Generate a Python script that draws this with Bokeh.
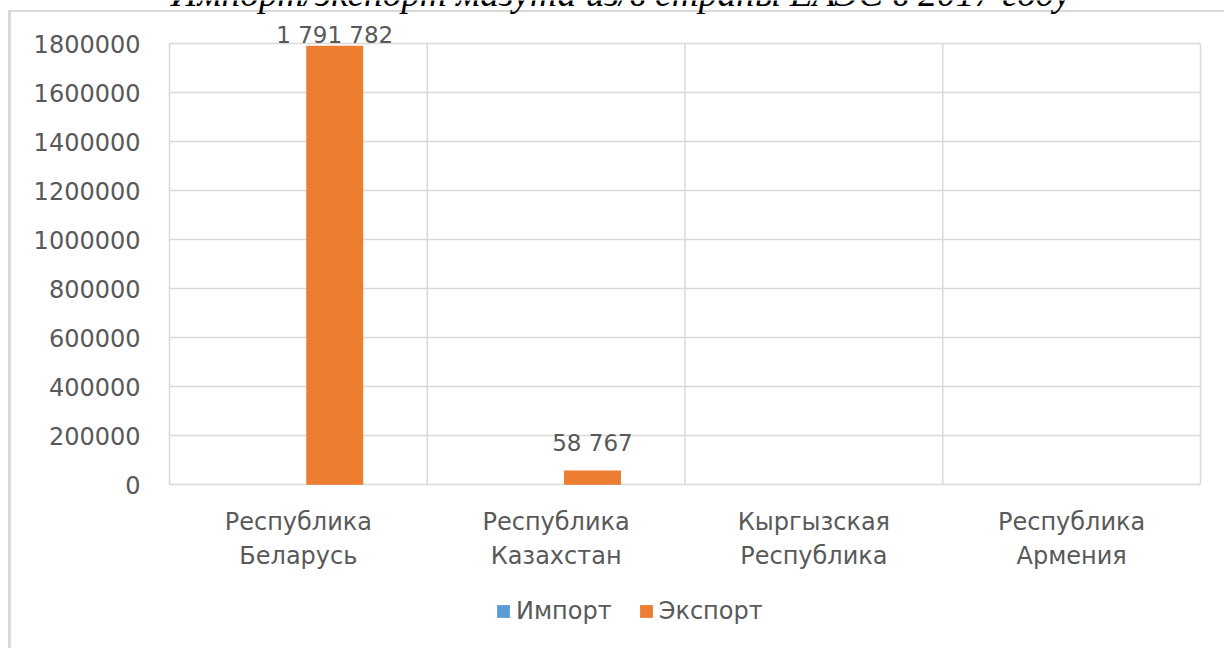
from bokeh.plotting import figure
from bokeh.models import (Range1d, FixedTicker, NumeralTickFormatter, ColumnDataSource,
                          LabelSet, Label, Legend, LegendItem, LinearAxis)
from bokeh.core.properties import value
from bokeh.embed import file_html
from bokeh.resources import INLINE

# ---- data ----
title_text = "Импорт/экспорт мазута из/в страны ЕАЭС в 2017 году"
categories = ["Республика\nБеларусь", "Республика\nКазахстан",
              "Кыргызская\nРеспублика", "Республика\nАрмения"]
import_values = [0, 0, 0, 0]
export_values = [1791782, 58767, 0, 0]
series_names = ["Импорт", "Экспорт"]
y_ticks = [0, 200000, 400000, 600000, 800000, 1000000, 1200000, 1400000, 1600000, 1800000]

# ---- styles / layout ----
C_IMPORT = "#5B9BD5"
C_EXPORT = "#ED7D31"
TXT = "#595959"
GRID = "#d9d9d9"
FONT = "DejaVu Sans"
BAR_W = 0.221
OFF_IMPORT = -0.080
OFF_EXPORT = 0.141

W, H = 1224, 648
FRAME_LEFT, FRAME_RIGHT = 169, 1200
TOP_PX, ZERO_PX = 43.3, 484.3      # pixel rows of the top tick and of zero
YMAX = y_ticks[-1]
per_px = YMAX / (ZERO_PX - TOP_PX)
Y_START = -(H - ZERO_PX) * per_px
Y_END = YMAX + TOP_PX * per_px
n = len(categories)
centers = [i + 0.5 for i in range(n)]
edges = list(range(1, n))

p = figure(width=W, height=H, output_backend="svg", toolbar_location=None,
           x_range=Range1d(0, n), y_range=Range1d(Y_START, Y_END),
           x_axis_location=None,
           min_border_left=FRAME_LEFT, min_border_right=W - FRAME_RIGHT,
           min_border_top=0, min_border_bottom=0)
p.background_fill_alpha = 0
p.border_fill_alpha = 0
p.outline_line_color = None
# outer chart-area border (thin grey lines, left and top)
p.styles = {
    "background": (f"linear-gradient({GRID},{GRID}) 8px 10px / {W}px 2px no-repeat, "
                   f"linear-gradient({GRID},{GRID}) 8px 10px / 3px {H}px no-repeat, white"),
}

# grids
p.ygrid.ticker = FixedTicker(ticks=y_ticks)
p.ygrid.grid_line_color = GRID
p.ygrid.grid_line_width = 1.5
p.xgrid.visible = False
p.segment(x0=edges, y0=[0] * len(edges), x1=edges, y1=[YMAX] * len(edges),
          line_color=GRID, line_width=1.5)

# y axis
p.yaxis.ticker = FixedTicker(ticks=y_ticks)
p.yaxis.formatter = NumeralTickFormatter(format="0")
p.yaxis.bounds = (0, YMAX)
p.yaxis.axis_line_color = GRID
p.yaxis.axis_line_width = 1.5
p.yaxis.major_tick_line_color = None
p.yaxis.minor_tick_line_color = None
p.yaxis.major_tick_in = 0
p.yaxis.major_tick_out = 0
p.yaxis.major_label_standoff = 29
p.yaxis.major_label_text_font = FONT
p.yaxis.major_label_text_font_size = "24px"
p.yaxis.major_label_text_color = TXT

# right border of the plot area
p.add_layout(LinearAxis(ticker=FixedTicker(ticks=[]), bounds=(0, YMAX),
                        axis_line_color=GRID, axis_line_width=1.5,
                        major_tick_line_color=None, minor_tick_line_color=None,
                        major_label_text_font_size="0px"), "right")

# category labels under the plot area (each line centred)
line1 = [c.split("\n")[0] for c in categories]
line2 = [c.split("\n")[1] for c in categories]
for texts, off in ((line1, -23), (line2, -57)):
    csrc = ColumnDataSource(dict(x=centers, y=[0] * n, t=texts))
    p.add_layout(LabelSet(x="x", y="y", text="t", y_offset=off, source=csrc,
                          text_align="center", text_baseline="top",
                          text_font=value(FONT), text_font_size="24px",
                          text_color=TXT))

# bars
src = ColumnDataSource(dict(
    x_imp=[c + OFF_IMPORT for c in centers],
    x_exp=[c + OFF_EXPORT for c in centers],
    imp=import_values, exp=export_values))
r_imp = p.vbar(x="x_imp", top="imp", width=BAR_W, source=src,
               fill_color=C_IMPORT, line_color=None)
r_exp = p.vbar(x="x_exp", top="exp", width=BAR_W, source=src,
               fill_color=C_EXPORT, line_color=None)

# data labels (only non-zero)
lx, ly, lt, lo = [], [], [], []
for c, v in zip(centers, export_values):
    if v:
        lx.append(c + OFF_EXPORT)
        ly.append(v)
        lt.append(f"{v:,}".replace(",", " "))
        lo.append(3 if v > 0.95 * YMAX else 19)
lsrc = ColumnDataSource(dict(x=lx, y=ly, t=lt, o=lo))
p.add_layout(LabelSet(x="x", y="y", text="t", y_offset="o", source=lsrc,
                      text_align="center", text_baseline="alphabetic",
                      text_font=value(FONT), text_font_size="23px", text_color=TXT))

# legend
legend = Legend(items=[LegendItem(label=series_names[0], renderers=[r_imp]),
                       LegendItem(label=series_names[1], renderers=[r_exp])],
                orientation="horizontal", location=(326, 23),
                glyph_width=16, glyph_height=16, label_standoff=5, spacing=26,
                padding=0, margin=0, border_line_color=None,
                background_fill_alpha=0,
                label_text_font=FONT, label_text_font_size="24px",
                label_text_color=TXT)
p.add_layout(legend)

# title (cut off at the top, as in the reference)
p.add_layout(Label(x=170, y=-7.5, x_units="canvas", y_units="canvas",
                   text=title_text, text_font="Liberation Serif",
                   text_font_style="italic", text_font_size="37.5px",
                   text_color="black", text_baseline="alphabetic"))

open("out.html", "w").write(file_html(p, INLINE))
